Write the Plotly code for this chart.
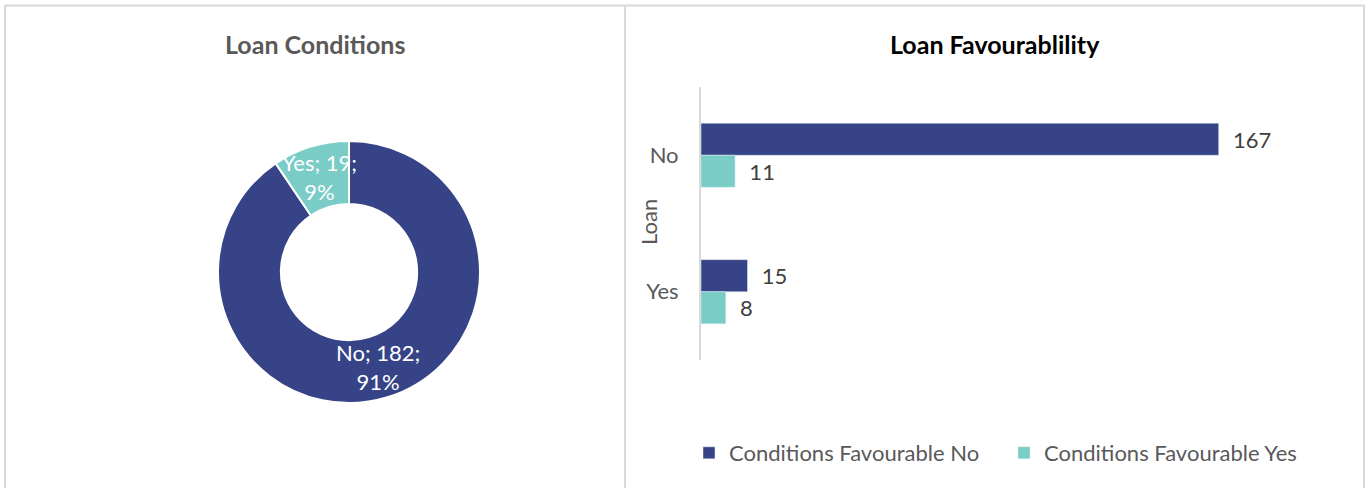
import math
import plotly.graph_objects as go

W, H = 1366, 488

# ---- data ----
donut_labels = ["No", "Yes"]
donut_values = [182, 19]

loan_categories = ["No", "Yes"]
fav_no_values = [167, 15]
fav_yes_values = [11, 8]
series_names = ["Conditions Favourable No", "Conditions Favourable Yes"]

title_left = "Loan Conditions"
title_right = "Loan Favourablility"
axis_title = "Loan"

DARK = "#364387"
TEAL = "#7accc7"
FONT = "Lato"

def px(x):
    return x / W

def py(y):
    return 1 - y / H

# donut geometry (pixels)
PIE_CX, PIE_CY, PIE_R, HOLE = 349, 272, 131, 0.52

fig = go.Figure()

fig.add_trace(go.Pie(
    labels=donut_labels, values=donut_values,
    hole=HOLE, sort=False, direction="clockwise", rotation=0,
    marker=dict(colors=[DARK, TEAL], line=dict(color="white", width=2)),
    textinfo="none",
    domain=dict(x=[px(PIE_CX - PIE_R), px(PIE_CX + PIE_R)],
                y=[py(PIE_CY + PIE_R), py(PIE_CY - PIE_R)]),
    showlegend=False, hoverinfo="label+value+percent",
))

# donut data labels placed at each slice's ring midpoint
annotations = []
total = sum(donut_values)
cum = 0
r_mid = PIE_R * (1 + HOLE) / 2
for lab, v in zip(donut_labels, donut_values):
    theta = 2 * math.pi * (cum + v / 2) / total
    cum += v
    xp = PIE_CX + r_mid * math.sin(theta)
    yp = PIE_CY - r_mid * math.cos(theta)
    pct = round(100 * v / total)
    annotations.append(dict(
        text=f"{lab}; {v};<br>{pct}%", x=px(xp), y=py(yp),
        xref="paper", yref="paper", xanchor="center", yanchor="middle",
        showarrow=False,
        font=dict(family=FONT, size=22, color="white")))

for name, vals, col in [(series_names[0], fav_no_values, DARK),
                        (series_names[1], fav_yes_values, TEAL)]:
    fig.add_trace(go.Bar(
        y=loan_categories, x=vals, name=name, orientation="h",
        marker=dict(color=col),
        text=vals, texttemplate="\u00a0\u00a0%{x}",
        textposition="outside", cliponaxis=False,
        textfont=dict(family=FONT, size=22, color="#404040"),
        xaxis="x", yaxis="y",
    ))

annotations += [
    dict(text=f"<b>{title_left}</b>", x=px(315), y=py(44),
         xref="paper", yref="paper", xanchor="center", yanchor="middle",
         showarrow=False,
         font=dict(family=FONT, size=25, color="#595959")),
    dict(text=f"<b>{title_right}</b>", x=px(995), y=py(44),
         xref="paper", yref="paper", xanchor="center", yanchor="middle",
         showarrow=False,
         font=dict(family=FONT, size=25, color="#000000")),
    dict(text=axis_title, x=px(648), y=py(222), textangle=-90,
         xref="paper", yref="paper", xanchor="center", yanchor="middle",
         showarrow=False,
         font=dict(family=FONT, size=22, color="#595959")),
]

fig.update_layout(
    width=W, height=H,
    margin=dict(l=0, r=0, t=0, b=0),
    paper_bgcolor="white", plot_bgcolor="white",
    font=dict(family=FONT, color="#595959"),
    barmode="group", bargap=0.53, bargroupgap=0,
    xaxis=dict(domain=[px(701), px(1321)], range=[0, 200],
               visible=False, fixedrange=True),
    yaxis=dict(domain=[py(360), py(87)], autorange="reversed",
               showline=True, linecolor="#d9d9d9", linewidth=2,
               ticks="outside", ticklen=16, tickcolor="rgba(0,0,0,0)",
               tickfont=dict(family=FONT, size=22, color="#595959"),
               showgrid=False, zeroline=False, automargin=False),
    legend=dict(orientation="h", x=px(1004), xanchor="center",
                y=py(453), yanchor="middle", entrywidth=270,
                font=dict(family=FONT, size=22, color="#595959"),
                traceorder="normal"),
    annotations=annotations,
    shapes=[
        dict(type="line", xref="paper", yref="paper",
             x0=px(5), x1=px(1364), y0=py(5.5), y1=py(5.5),
             line=dict(color="#d9d9d9", width=2)),
        dict(type="line", xref="paper", yref="paper",
             x0=px(5), x1=px(5), y0=py(5), y1=0,
             line=dict(color="#d9d9d9", width=2)),
        dict(type="line", xref="paper", yref="paper",
             x0=px(625), x1=px(625), y0=py(5), y1=0,
             line=dict(color="#d9d9d9", width=2)),
        dict(type="line", xref="paper", yref="paper",
             x0=px(1364), x1=px(1364), y0=py(5), y1=0,
             line=dict(color="#d9d9d9", width=2)),
    ],
)

fig.write_html(
    "out.html",
    config={"displayModeBar": False},
    post_script="document.body.style.margin='0px';document.body.style.overflow='hidden';",
)
